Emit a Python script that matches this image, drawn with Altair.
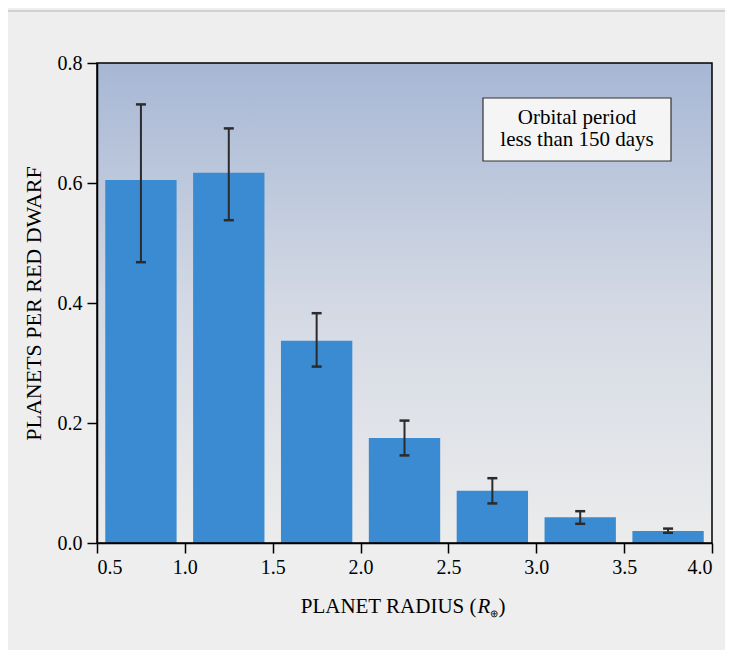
import altair as alt
import pandas as pd

# ---- data ----
bin_start = [0.5, 1.0, 1.5, 2.0, 2.5, 3.0, 3.5]
bin_end = [1.0, 1.5, 2.0, 2.5, 3.0, 3.5, 4.0]
planets_per_dwarf = [0.605, 0.617, 0.337, 0.175, 0.087, 0.043, 0.020]
err_low = [0.468, 0.538, 0.294, 0.146, 0.066, 0.032, 0.017]
err_high = [0.731, 0.691, 0.383, 0.204, 0.108, 0.053, 0.024]
x_ticks = [0.5, 1.0, 1.5, 2.0, 2.5, 3.0, 3.5, 4.0]
y_ticks = [0.0, 0.2, 0.4, 0.6, 0.8]
note_lines = ["Orbital period", "less than 150 days"]

W, H = 615, 480
GAP = 0.047
FONT = "Liberation Serif"

df = pd.DataFrame({
    "start": bin_start,
    "end": bin_end,
    "value": planets_per_dwarf,
    "lo": err_low,
    "hi": err_high,
})
df["x0"] = df["start"] + GAP
df["x1"] = df["end"] - GAP
df["mid"] = (df["start"] + df["end"]) / 2

xscale = alt.Scale(domain=[0.5, 4.0], nice=False, zero=False)
yscale = alt.Scale(domain=[0.0, 0.8], nice=False)

xaxis = alt.Axis(values=x_ticks, format=".1f", title=None, labelPadding=4,
                 zindex=2)
yaxis = alt.Axis(values=y_ticks, format=".1f", title="PLANETS PER RED DWARF",
                 titleFont=FONT, titleFontSize=22, titleFontWeight="normal",
                 titleColor="black", titlePadding=12, labelPadding=5, zindex=2)

one = pd.DataFrame({"a": [0]})

# outer frame line
frame = alt.Chart(one).mark_rect(
    fill="transparent", stroke="#c8c8c8", strokeWidth=1.5
).encode(
    x=alt.value(-90), x2=alt.value(W + 300),
    y=alt.value(-52), y2=alt.value(H + 300),
)

# gradient plot background
bg = alt.Chart(one).mark_rect(
    color=alt.Gradient(
        gradient="linear",
        stops=[alt.GradientStop(color="#a7b7d4", offset=0),
               alt.GradientStop(color="#d3d9e4", offset=0.5),
               alt.GradientStop(color="#ececec", offset=1)],
        x1=0, x2=0, y1=0, y2=1,
    )
).encode(
    x=alt.value(0), x2=alt.value(W), y=alt.value(0), y2=alt.value(H)
)

bars = alt.Chart(df).mark_bar(color="#3a8bd2").encode(
    x=alt.X("x0:Q", scale=xscale, axis=xaxis),
    x2="x1:Q",
    y=alt.Y("value:Q", scale=yscale, axis=yaxis),
    y2=alt.datum(0),
)

rules = alt.Chart(df).mark_rule(color="#2b2b2b", strokeWidth=2).encode(
    x="mid:Q", y="lo:Q", y2="hi:Q"
)
cap_hi = alt.Chart(df).mark_tick(orient="horizontal", size=10, thickness=2.5,
                                 color="#2b2b2b", opacity=1).encode(
    x="mid:Q", y="hi:Q"
)
cap_lo = alt.Chart(df).mark_tick(orient="horizontal", size=10, thickness=2.5,
                                 color="#2b2b2b", opacity=1).encode(
    x="mid:Q", y="lo:Q"
)

# plot border (top and right)
border = alt.Chart(one).mark_rect(
    fill="transparent", stroke="black", strokeWidth=1.5
).encode(
    x=alt.value(0), x2=alt.value(W), y=alt.value(0), y2=alt.value(H)
)

# annotation box
box = alt.Chart(one).mark_rect(
    fill="#f5f5f5", stroke="#333333", strokeWidth=1.2
).encode(
    x=alt.value(386), x2=alt.value(574), y=alt.value(35), y2=alt.value(98)
)
note1 = alt.Chart(pd.DataFrame({"t": [note_lines[0]]})).mark_text(
    font=FONT, fontSize=21, color="black", align="center", baseline="alphabetic"
).encode(text="t:N", x=alt.value(480), y=alt.value(61))
note2 = alt.Chart(pd.DataFrame({"t": [note_lines[1]]})).mark_text(
    font=FONT, fontSize=21, color="black", align="center", baseline="alphabetic"
).encode(text="t:N", x=alt.value(480), y=alt.value(83))

# x axis title built from parts (italic R with subscript Earth symbol)
cx = W / 2
ty = H + 64
t_main = alt.Chart(pd.DataFrame({"t": ["PLANET RADIUS ("]})).mark_text(
    font=FONT, fontSize=21, color="black", align="right", baseline="middle"
).encode(text="t:N", x=alt.value(cx + 72), y=alt.value(ty))
t_r = alt.Chart(pd.DataFrame({"t": ["R"]})).mark_text(
    font=FONT, fontSize=21, fontStyle="italic", color="black",
    align="left", baseline="middle"
).encode(text="t:N", x=alt.value(cx + 73), y=alt.value(ty))
t_sub = alt.Chart(pd.DataFrame({"t": ["⊕"]})).mark_text(
    font=FONT, fontSize=10, color="black", align="left", baseline="middle"
).encode(text="t:N", x=alt.value(cx + 85), y=alt.value(ty + 7))
t_close = alt.Chart(pd.DataFrame({"t": [")"]})).mark_text(
    font=FONT, fontSize=21, color="black", align="left", baseline="middle"
).encode(text="t:N", x=alt.value(cx + 94), y=alt.value(ty))

chart = alt.layer(
    frame, bg, bars, rules, cap_hi, cap_lo, border, box, note1, note2,
    t_main, t_r, t_sub, t_close
).properties(
    width=W, height=H,
    autosize=alt.AutoSizeParams(type="none"),
    padding={"left": 89, "top": 55, "right": 13, "bottom": 107},
    background="#eeeeee",
).configure_view(
    stroke=None
).configure_axis(
    labelFont=FONT, labelFontSize=20, labelColor="black",
    domainColor="black", domainWidth=1.5, tickColor="black",
    tickWidth=1.5, tickSize=10, grid=False,
)

chart.save("out.html", embed_options={"renderer": "svg", "actions": False})
